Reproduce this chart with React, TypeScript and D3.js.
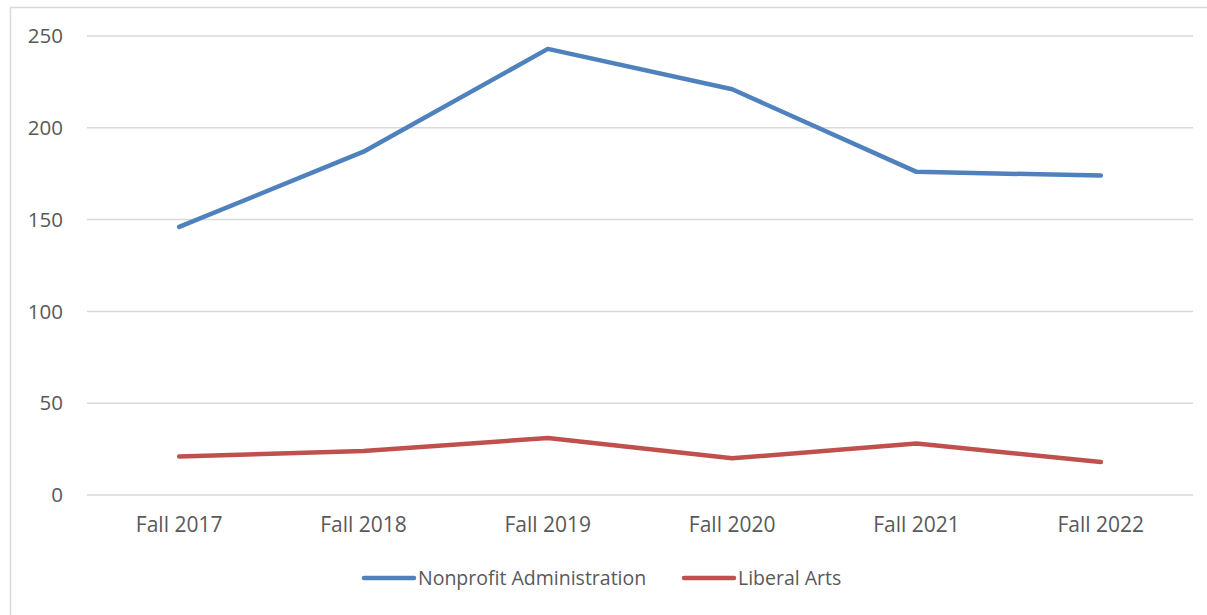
import React, { useEffect, useRef } from 'react';
import * as d3 from 'd3';

const terms = ['Fall 2017', 'Fall 2018', 'Fall 2019', 'Fall 2020', 'Fall 2021', 'Fall 2022'];
const nonprofitAdmin = [146, 187, 243, 221, 176, 174];
const liberalArts = [21, 24, 31, 20, 28, 18];
const yTicks = [0, 50, 100, 150, 200, 250];

const seriesList = [
  { name: 'Nonprofit Administration', values: nonprofitAdmin, color: '#4f81bd' },
  { name: 'Liberal Arts', values: liberalArts, color: '#c0504d' },
];

const App: React.FC = () => {
  const ref = useRef<SVGSVGElement | null>(null);

  useEffect(() => {
    if (!ref.current) return;
    const svg = d3.select(ref.current);
    svg.selectAll('*').remove();

    const width = 1207;
    const height = 615;
    const plot = { left: 87, right: 1193, top: 36, bottom: 495 };
    const font = "'Open Sans', sans-serif";
    const fontSize = 20.5;
    const textColor = '#595959';

    // chart border
    svg
      .append('rect')
      .attr('x', 10.5)
      .attr('y', 7.5)
      .attr('width', width)
      .attr('height', height)
      .attr('fill', 'white')
      .attr('stroke', '#d9d9d9')
      .attr('stroke-width', 1.5);

    const x = d3.scaleBand().domain(terms).range([plot.left, plot.right]).padding(0);
    const y = d3.scaleLinear().domain([0, 250]).range([plot.bottom, plot.top]);

    // gridlines
    svg
      .selectAll('.grid')
      .data(yTicks)
      .enter()
      .append('line')
      .attr('x1', plot.left)
      .attr('x2', plot.right)
      .attr('y1', (d) => y(d))
      .attr('y2', (d) => y(d))
      .attr('stroke', '#d9d9d9')
      .attr('stroke-width', 1.5);

    // y labels
    svg
      .selectAll('.ylab')
      .data(yTicks)
      .enter()
      .append('text')
      .attr('x', 63)
      .attr('y', (d) => y(d))
      .attr('dy', '0.35em')
      .attr('text-anchor', 'end')
      .attr('font-family', font)
      .attr('font-size', fontSize)
      .attr('fill', textColor)
      .text((d) => d);

    // x labels
    svg
      .selectAll('.xlab')
      .data(terms)
      .enter()
      .append('text')
      .attr('x', (d) => (x(d) as number) + x.bandwidth() / 2)
      .attr('y', 525)
      .attr('dy', '0.35em')
      .attr('text-anchor', 'middle')
      .attr('font-family', font)
      .attr('font-size', 21)
      .attr('fill', textColor)
      .text((d) => d);

    const line = d3
      .line<number>()
      .x((_, i) => (x(terms[i]) as number) + x.bandwidth() / 2)
      .y((d) => y(d));

    seriesList.forEach((s) => {
      svg
        .append('path')
        .datum(s.values)
        .attr('d', line)
        .attr('fill', 'none')
        .attr('stroke', s.color)
        .attr('stroke-width', 4.5)
        .attr('stroke-linecap', 'round')
        .attr('stroke-linejoin', 'round');
    });

    // legend
    const legendY = 578;
    const legendX = [364, 684];
    seriesList.forEach((s, i) => {
      const g = svg.append('g').attr('transform', `translate(${legendX[i]},${legendY})`);
      g.append('line')
        .attr('x1', 0)
        .attr('x2', 50)
        .attr('stroke', s.color)
        .attr('stroke-width', 4.5)
        .attr('stroke-linecap', 'round');
      g.append('text')
        .attr('x', 54)
        .attr('dy', '0.35em')
        .attr('font-family', font)
        .attr('font-size', 19.5)
        .attr('fill', textColor)
        .text(s.name);
    });
  }, []);

  return (
    <svg
      ref={ref}
      width={1207}
      height={615}
      style={{ position: 'absolute', left: 0, top: 0 }}
    ></svg>
  );
};

export default App;
